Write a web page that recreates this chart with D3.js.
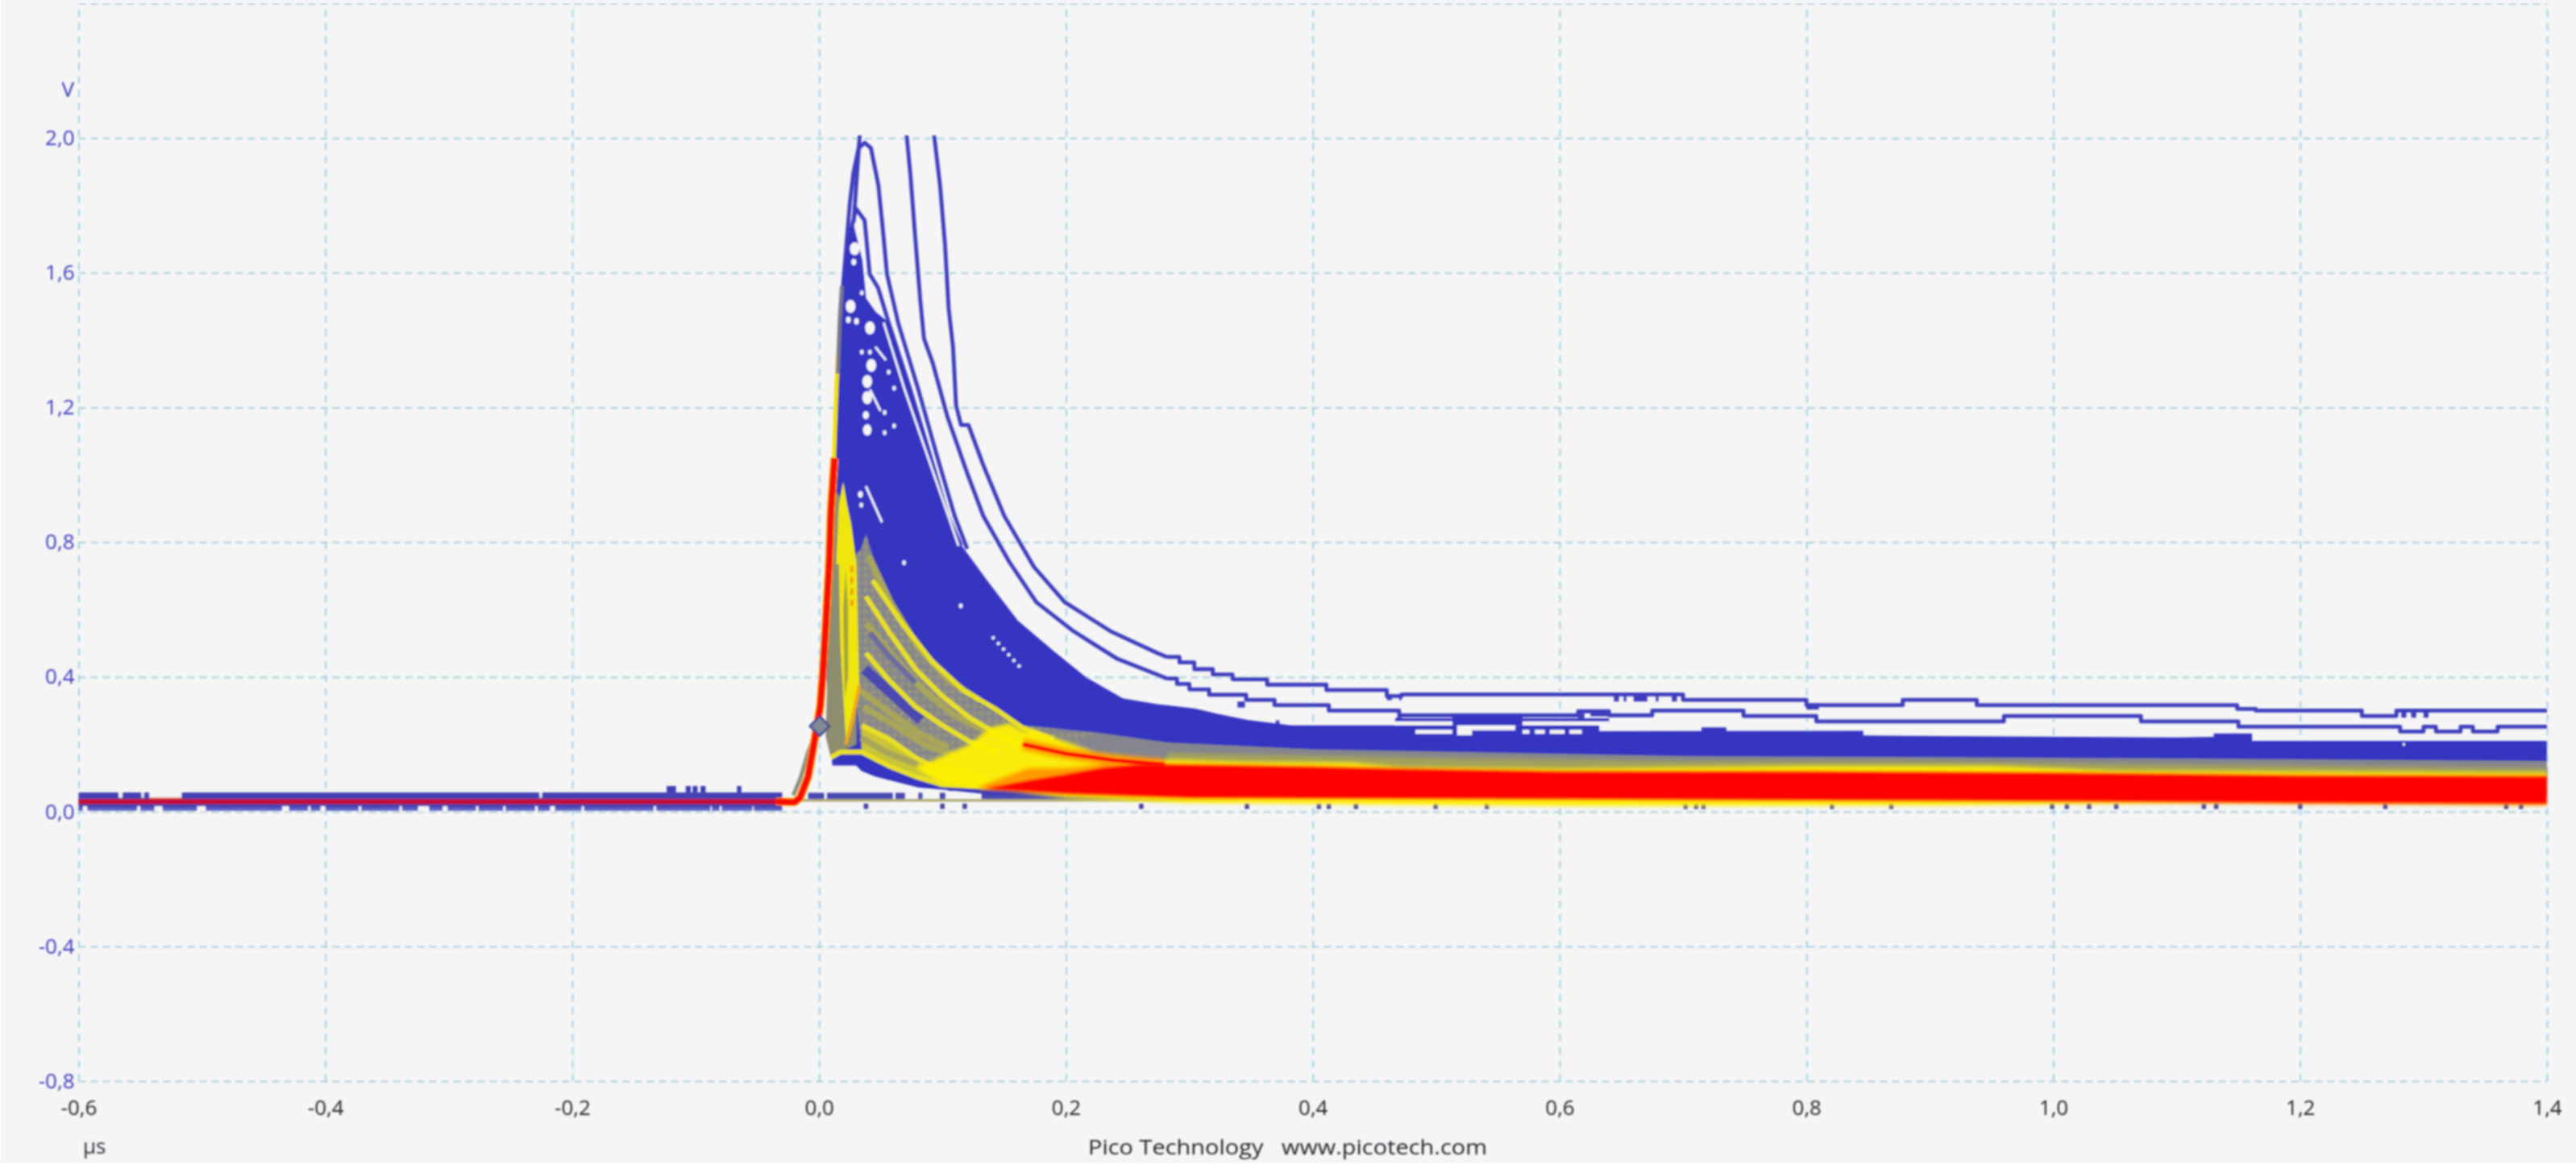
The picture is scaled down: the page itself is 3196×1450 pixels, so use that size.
<!DOCTYPE html>
<html><head><meta charset="utf-8">
<style>html,body{margin:0;padding:0;background:#fff;overflow:hidden}svg{display:block}text{font-family:"Open Sans","Noto Sans",sans-serif}</style>
<script src="https://cdn.jsdelivr.net/npm/d3@7/dist/d3.min.js"></script></head><body><script>
const xTicks=[-0.6,-0.4,-0.2,0,0.2,0.4,0.6,0.8,1.0,1.2,1.4];
const yTicks=[-0.8,-0.4,0,0.4,0.8,1.2,1.6,2.0,2.4];
const yLabelled=[-0.8,-0.4,0,0.4,0.8,1.2,1.6,2.0];
const traceA=[[.018,1.5],[.025,1.81],[.028,1.9],[.032,1.97],[.037,1.986],[.042,1.97],[.048,1.86],[.052,1.715],[.055,1.596],[.064,1.452],[.0804,1.253],[.0957,1.054],[.1098,.878],[.12,.78]];
const traceStub=[[.028,1.75],[.0331,2.02]];
const traceB=[[.0706,2.02],[.074,1.89],[.078,1.70],[.082,1.517],[.085,1.404],[.092,1.333],[.104,1.172],[.12,1.005],[.133,.878],[.154,.742],[.176,.622],[.206,.536],[.241,.455],[.274,.407],[.282,.395]];
const traceC=[[.0928,2.02],[.098,1.859],[.102,1.684],[.105,1.493],[.1085,1.38],[.111,1.206],[.115,1.148],[.121,1.148],[.133,1.029],[.150,.878],[.174,.727],[.199,.622],[.236,.536],[.274,.471],[.282,.459]];
const traceD=[[.024,1.7],[.03,1.79],[.0369,1.755],[.041,1.596],[.0477,1.556],[.0564,1.452],[.0739,1.253],[.0902,1.054],[.1043,.878],[.115,.79]];
const tailB=[[.282,.395],[.29,.379],[.30,.363],[.316,.347],[.346,.332],[.369,.316],[.413,.3],[.47,.286],[.615,.298],[.64,.286],[.675,.3],[.749,.284],[.808,.268],[.96,.284],[1.071,.268],[1.15,.252],[1.281,.238],[1.3,.252],[1.31,.238],[1.33,.252],[1.34,.238],[1.36,.252],[1.4,.252]];
const tailC=[[.282,.459],[.292,.443],[.304,.423],[.319,.407],[.335,.393],[.363,.377],[.411,.361],[.46,.343],[.472,.348],[.7,.332],[.8,.316],[.878,.332],[.938,.316],[1.149,.305],[1.164,.3],[1.25,.284],[1.278,.3],[1.4,.3]];
const traceBlips=[[.644,.648,.336],[.652,.654,.336],[.660,.671,.336],[.678,.68,.336],[.691,.695,.336],[1.282,1.286,.288],[1.29,1.294,.288],[1.30,1.304,.288],[.46,.464,.34],[.47,.472,.34],[.8,.81,.312],[.339,.345,.318],[.468,.472,.272],[.615,.62,.286],[.625,.64,.292],[.37,.373,.262]];
const massOutline=[[.0107,.137],[.006,.4],[.0075,.7],[.0085,.878],[.012,1.053],[.0145,1.316],[.016,1.436],[.018,1.517],[.0196,1.596],[.0225,1.68],[.025,1.73],[.028,1.74],[.035,1.636],[.038,1.524],[.046,1.483],[.0564,1.452],[.0739,1.253],[.0902,1.054],[.1043,.878],[.1137,.799],[.136,.687],[.161,.567],[.189,.48],[.216,.4],[.246,.336],[.274,.319],[.282,.316],[.305,.306],[.323,.29],[.347,.272],[.383,.256],[.632,.256],[.632,.239],[.846,.24],[.846,.226],[1.1,.22],[1.13,.222],[1.16,.21],[1.4,.21],[1.4,.05],[.14,.05],[.1044,.064],[.0804,.072],[.063,.088],[.0456,.104],[.0346,.12],[.03,.137]];
const massBits=[[.4668,.513,.277,.262],[.513,.57,.284,.256],[.57,.64,.277,.262],[1.13,1.161,.232,.21],[.715,.735,.25,.236]];
const bgGaps=[[.4668,.513,.268,.2576],[.517,.564,.256,.2416],[.57,.64,.268,.2576],[.4832,.513,.243,.231],[.517,.529,.245,.227],[.57,.5755,.243,.231],[.58,.588,.243,.231],[.592,.604,.243,.231],[.608,.618,.243,.231]];
const massSpecks=[[.0288,1.671,8],[.0281,1.632,4],[.0255,1.5,8],[.0412,1.436,8],[.0237,1.46,4],[.0303,1.456,4],[.0423,1.325,8],[.039,1.277,8],[.039,1.229,8],[.0379,1.177,5],[.039,1.133,7],[.0564,1.305,3],[.0608,1.257,3],[.0608,1.145,3],[.0346,1.54,3],[.0346,1.364,3],[.0412,1.364,3],[.0531,1.185,3],[.0531,1.125,3],[.1148,.611,3],[.0688,.739,3],[.0335,.942,4],[.0342,.91,3],[1.284,.2,2]];
const massSlashes=[[[.0455,1.38],[.0542,1.34]],[[.0412,1.253],[.0498,1.189]],[[.0379,.966],[.051,.859]],[[.0523,1.452],[.0693,1.253],[.113,.789]]];
const dottedSlash=[[.1403,.519],[.1643,.423]];
const fieldGrey=[[.0346,.177],[.028,.4],[.027,.75],[.034,.78],[.038,.823],[.052,.655],[.072,.536],[.0915,.431],[.122,.335],[.165,.256],[.224,.235],[.282,.205],[.4,.185],[.7,.165],[1.0,.16],[1.4,.15],[1.4,.1],[.14,.07],[.0999,.08],[.0782,.104],[.0564,.136]];
const fieldLow=[[.0346,.256],[.0564,.216],[.0782,.16],[.0913,.136],[.12,.13],[.1436,.09],[.0999,.08],[.0782,.104],[.0564,.136],[.0346,.177]];
const fieldLeft=[[.0053,.224],[.0075,.5],[.0105,.734],[.0135,.95],[.0227,.91],[.0303,.6],[.0303,.2],[.0172,.177],[.0096,.161]];
const blade=[[.0216,.216],[.0172,.495],[.0161,.734],[.0139,.735],[.0161,.91],[.0195,.98],[.0227,.91],[.026,.854],[.0303,.735],[.0303,.734],[.0314,.535],[.0325,.375]];
const bladeOrange=[[.0216,.2],[.027,.27],[.0325,.375]];
const bladeOrangeTop=[[.0265,.73],[.0265,.6]];
const bladeGrey=[[.0208,.34],[.0195,.6],[.0215,.72],[.0235,.6],[.0235,.4]];
const yellowLines=[
 [[.0433,.687],[.0673,.559],[.0913,.447],[.1174,.359],[.1436,.303],[.1653,.248],[.19,.215]],
 [[.0379,.639],[.0564,.535],[.0782,.423],[.0999,.343],[.1218,.279],[.1436,.232],[.165,.192]],
 [[.0379,.471],[.0564,.391],[.0782,.311],[.0999,.256],[.1218,.208],[.1436,.176]],
 [[.0346,.256],[.0564,.216],[.0782,.16],[.0913,.136]],
 [[.0096,.161],[.0172,.177],[.0346,.177],[.0564,.136],[.0782,.104],[.0999,.08],[.1436,.072]]];
const oliveLines=[
 [[.04,.76],[.058,.62],[.08,.49],[.105,.39],[.13,.33]],
 [[.038,.56],[.06,.46],[.085,.36],[.11,.285],[.14,.23]],
 [[.033,.36],[.055,.3],[.08,.235],[.105,.19]],
 [[.036,.31],[.06,.26],[.085,.2],[.11,.165]],
 [[.034,.22],[.055,.175],[.08,.14]]];
const blueStripes=[[[.0368,.423],[.0608,.344],[.0826,.272]]];
const slateStripes=[[[.0412,.531],[.0564,.463],[.0782,.383]]];
const yellowMassTop=[[.0782,.13],[.0999,.165],[.1218,.2],[.1392,.25],[.154,.2625],[.1653,.24],[.174,.24],[.224,.177],[.274,.155],[.282,.155],[.35,.148],[.43,.146],[.47,.133],[.6,.128],[.8,.136],[.95,.136],[1.05,.122],[1.4,.116]];
const yellowMassBottom=[[1.4,.024],[1.1,.024],[.9,.018],[.6,.016],[.3,.026],[.2,.04],[.1436,.066],[.0999,.08]];
const oliveTop=[[.282,.175],[.5,.16],[.7,.15],[.9,.15],[1.1,.14],[1.4,.13]];
const orangeTop=[[.13,.075],[.155,.11],[.17,.13],[.2,.13],[.23,.14],[.26,.145],[.3,.143],[.4,.137],[.47,.13],[.6,.122],[.8,.122],[1.0,.118],[1.2,.11],[1.4,.108]];
const orangeBottom=[[1.4,.018],[1.2,.022],[1.1,.026],[.9,.03],[.6,.034],[.3,.038],[.2,.05],[.13,.066]];
const redTop=[[.135,.068],[.17,.092],[.2,.11],[.23,.13],[.26,.14],[.3,.138],[.4,.132],[.47,.126],[.6,.118],[.8,.118],[1.0,.114],[1.2,.106],[1.4,.104]];
const redBottom=[[1.4,.024],[1.2,.027],[1.1,.03],[.9,.034],[.6,.038],[.3,.042],[.2,.054],[.135,.068]];
const redStreak=[[.165,.2],[.2,.172],[.24,.152],[.28,.14]];
const redRise=[[-.035,.03],[-.02,.028],[-.0155,.041],[-.0089,.104],[-.0035,.216],[.0009,.312],[.0031,.415],[.0053,.551],[.0081,.734],[.0096,.895],[.0125,1.05]];
const riseEdge=[[-.0209,.0485],[-.015,.1],[-.0089,.176],[-.002,.24]];
const riseYellow=[[.0085,.8],[.0115,1.0],[.0135,1.2],[.0152,1.36]];
const riseSlate=[[.0152,1.3],[.0168,1.46],[.0185,1.56]];
const baseTop=.057, baseBottom=.003, crimsonTop=.038, crimsonBottom=.022;
const baseSpan=[-.6,-.03];
const baseTopGaps=[[-.5427,-.5165],[-.5675,-.5645],[-.549,-.547],[-.2265,-.2245]];
const baseLowGaps=[[-.5965,-.593],[-.5525,-.55],[-.5385,-.532],[-.504,-.497],[-.435,-.4295],[-.414,-.412],[-.404,-.4],[-.373,-.371],[-.34,-.338],[-.325,-.316],[-.305,-.301],[-.278,-.276],[-.256,-.254],[-.23,-.228],[-.218,-.214],[-.1925,-.1905],[-.134,-.132],[-.088,-.087],[-.0805,-.079],[-.054,-.053]];
const baseBumps=[[-.1235,-.116],[-.108,-.104],[-.1025,-.0985],[-.096,-.092],[-.0665,-.063]];
const postBand=[[-.0089,.0041],[.0064,.0597],[.0619,.0695],[.0804,.0837],[.0978,.1022],[.1316,.34]];
const postRaised=[[.1044,.1316]];
const floorDots=[.038,.0999,.118,.261,.3467,.405,.413,.435,.4995,.541,.702,.7106,.7166,.8207,.8687,.999,1.011,1.029,1.051,1.122,1.132,1.2,1.269,1.367,1.379];
const trigger=[[.0005,.254]];
const unitY="V", unitX="µs", credit="Pico Technology   www.picotech.com";

const W=3196,H=1450;
const x=d3.scaleLinear([-0.6,1.4],[97.5,3160]);
const y=d3.scaleLinear([-0.8,2.4],[1341,4]);
const BLUE="#3535c2",BG="#f5f5f5";
const svg=d3.select("body").append("svg").attr("width",W).attr("height",H);
const defs=svg.append("defs");
defs.append("filter").attr("id","soft").attr("x",0).attr("y",0).attr("width",1).attr("height",1)
  .append("feGaussianBlur").attr("stdDeviation",0.9);
defs.append("filter").attr("id","softer").attr("x","-5%").attr("y","-20%").attr("width","110%").attr("height","140%")
  .append("feGaussianBlur").attr("stdDeviation",2);
defs.append("filter").attr("id","softest").attr("x","-20%").attr("y","-20%").attr("width","140%").attr("height","140%")
  .append("feGaussianBlur").attr("stdDeviation",1.4);
defs.append("clipPath").attr("id","clip").append("rect").attr("x",x(-0.6)-4).attr("y",168).attr("width",x(1.4)-x(-0.6)+5).attr("height",1200);
const pat=defs.append("pattern").attr("id","dots").attr("width",9).attr("height",9).attr("patternUnits","userSpaceOnUse");
pat.append("rect").attr("x",1).attr("y",1).attr("width",4).attr("height",4).attr("fill","#d8d030");
svg.append("rect").attr("width",W).attr("height",H).attr("fill","#fff");
svg.append("rect").attr("x",1).attr("width",W-1).attr("height",1443).attr("fill",BG);

const loc=d3.formatLocale({decimal:",",thousands:".",grouping:[3],currency:["",""],minus:"-"});
const fmt=loc.format(".1f");
const root=svg.append("g").attr("filter","url(#soft)");
const gx=root.append("g").attr("transform",`translate(0,${y(-0.8)})`)
  .call(d3.axisBottom(x).tickValues(xTicks).tickSize(-(y(-0.8)-y(2.4))).tickFormat(fmt));
gx.select(".domain").remove();
gx.selectAll("line").attr("stroke","#9fd2e6").attr("stroke-width",2).attr("stroke-dasharray","9 7.5");
gx.selectAll("text").attr("fill","#26262c").attr("font-size",26).attr("y",21).attr("dy","0.8em").attr("text-anchor","middle");
const gy=root.append("g").attr("transform",`translate(${x(-0.6)},0)`)
  .call(d3.axisLeft(y).tickValues(yTicks).tickSize(-(x(1.4)-x(-0.6))).tickFormat(d=>yLabelled.includes(d)?fmt(d):""));
gy.select(".domain").remove();
gy.selectAll("line").attr("stroke","#a8cfdc").attr("stroke-width",2).attr("stroke-dasharray","9 6");
gy.selectAll("text").attr("fill","#3c3cc0").attr("font-size",26).attr("x",-5).attr("text-anchor","end");
root.append("text").text(unitY).attr("x",92).attr("y",120).attr("text-anchor","end").attr("fill","#3c3cc0").attr("font-size",26);
root.append("text").text(unitX).attr("x",103).attr("y",1431).attr("fill","#30303c").attr("font-size",26);
root.append("text").text(credit).attr("x",1350).attr("y",1432).attr("fill","#26262c").attr("font-size",26).style("white-space","pre").attr("textLength",495).attr("lengthAdjust","spacingAndGlyphs");

const plot=root.append("g").attr("clip-path","url(#clip)");
const line=d3.line().x(d=>x(d[0])).y(d=>y(d[1]));
const stepLine=d3.line().x(d=>x(d[0])).y(d=>y(d[1])).curve(d3.curveStepAfter);
const stroke=(p,c,w,gen=line,o=1,dash=null)=>plot.append("path").attr("d",gen(p)).attr("fill","none").attr("stroke",c).attr("stroke-width",w).attr("stroke-linejoin","round").attr("opacity",o).attr("stroke-dasharray",dash);
const fill=(p,c,o=1,par=plot)=>par.append("path").attr("d",line(p)+"Z").attr("fill",c).attr("opacity",o);
const box=(x0,x1,v0,v1,c,o=1,par=plot)=>par.append("rect").attr("x",x(x0)).attr("width",Math.max(1,x(x1)-x(x0))).attr("y",y(v0)).attr("height",y(v1)-y(v0)).attr("fill",c).attr("opacity",o);

// baseline band
box(baseSpan[0],baseSpan[1],baseTop,baseBottom,"#4343b4");
box(baseSpan[0],baseSpan[1],.012,baseBottom,"#6a6acc",.7);
baseTopGaps.forEach(g=>box(g[0],g[1],baseTop+.003,crimsonTop+.003,BG));
baseLowGaps.forEach(g=>box(g[0],g[1],crimsonBottom-.006,baseBottom-.003,BG));
baseBumps.forEach(g=>box(g[0],g[1],.076,baseTop,"#3c3cb4"));
box(baseSpan[0],baseSpan[1],crimsonTop,crimsonBottom,"#c4103c");
baseTopGaps.slice(0,1).forEach(g=>box(g[0],g[1],crimsonTop+.003,crimsonTop,"#ff5a20"));
postBand.forEach(g=>box(g[0],g[1],.056,.037,"#4a4ab4"));
postRaised.forEach(g=>box(g[0],g[1],.073,.062,"#4a4ab4"));
box(-.02,.34,.037,.03,"#a8a46c");
floorDots.forEach(d=>box(d-.0018,d+.0018,.024,.008,"#44449c"));

// individual blue traces
[traceA,traceStub,traceB,traceC,traceD].forEach(t=>stroke(t,"#3d3dbe",4.8));
[tailB,tailC].forEach(t=>stroke(t,"#3d3dbe",4.8,stepLine));
traceBlips.forEach(b=>box(b[0],b[1],b[2]+.009,b[2]-.009,"#3d3dbe"));

// persistence mass
fill(massOutline,BLUE);
massBits.forEach(b=>box(b[0],b[1],b[2],b[3],BLUE));
bgGaps.forEach(b=>box(b[0],b[1],b[2],b[3],BG));
massSlashes.forEach(s=>stroke(s,BG,2.8));
massSpecks.forEach(s=>plot.append("ellipse").attr("cx",x(s[0])).attr("cy",y(s[1])).attr("rx",s[2]*.75).attr("ry",s[2]).attr("fill",BG));
stroke(dottedSlash,BG,4,line,1,"3.5 6");

// grey-yellow field
fill(fieldGrey,"#85858f");
const softG=plot.append("g").attr("filter","url(#softer)");
fill(oliveTop.concat([[1.4,.1],[.282,.1]]),"#a3a25c",1,softG);
fill(fieldLeft,"#8d8d70");
fill(fieldLow,"#c9c438");
const softD=plot.append("g").attr("filter","url(#softest)");
softD.append("path").attr("d",line(fieldGrey.filter(d=>d[0]<.23))+"Z").attr("fill","url(#dots)").attr("opacity",.4);
oliveLines.forEach(l=>stroke(l,"#a9a65a",8));
blueStripes.forEach(l=>stroke(l,"#4a4ab0",13));
slateStripes.forEach(l=>stroke(l,"#6c6ca0",7));
yellowLines.forEach(l=>stroke(l,"#e8e020",6));
fill(blade,"#efe60c");
fill(bladeGrey,"#a5a33e");
stroke(bladeOrange,"#f5a810",4);
stroke(bladeOrangeTop,"#f5a010",4,line,1,"8 6");
const softY=plot.append("g").attr("filter","url(#softer)");
fill(yellowMassTop.concat(yellowMassBottom),"#fff000",.95,softY);
softY.append("path").attr("d",line(redStreak)).attr("fill","none").attr("stroke","#ff9a00").attr("stroke-width",14);
fill(orangeTop.concat(orangeBottom),"#ff9a00",1,softY);
const softR=plot.append("g").attr("filter","url(#softest)");
fill(redTop.concat(redBottom),"#ff0000",1,softR);
stroke(redStreak,"#ff1000",5);

// rising edge
stroke(riseEdge,"#8f8f78",5);
stroke(riseYellow,"#f2e000",5);
stroke(riseSlate,"#77778f",5);
stroke(redRise,"#ffae00",10);
stroke(redRise,"#f80800",8);

// trigger marker
root.selectAll(".trigger").data(trigger).join("path").attr("class","trigger")
  .attr("d",d3.symbol(d3.symbolSquare,300)).attr("transform",d=>`translate(${x(d[0])},${y(d[1])}) rotate(45)`)
  .attr("fill","#838894").attr("stroke","#2f3a96").attr("stroke-width",2.2);
</script></body></html>
